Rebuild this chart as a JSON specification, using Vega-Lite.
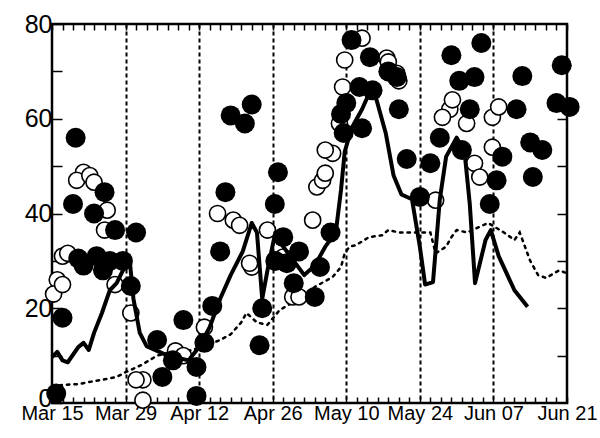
{
  "$schema": "https://vega.github.io/schema/vega-lite/v6.json",
  "width": 515,
  "height": 379,
  "autosize": "none",
  "padding": {"left": 52, "top": 24, "right": 33, "bottom": 35},
  "background": "white",
  "config": {
    "view": {"stroke": "black", "strokeWidth": 2.5, "fill": "white"},
    "axis": {"labelFont": "Liberation Sans", "labelColor": "black", "tickColor": "black", "domain": false, "labelFlush": false, "labelOverlap": false, "labelBound": false}
  },
  "datasets": {
    "filled": [
      {"day": 0.8, "value": 2}, {"day": 2, "value": 18}, {"day": 4.5, "value": 56}, {"day": 4, "value": 42},
      {"day": 8, "value": 40}, {"day": 10, "value": 44.5}, {"day": 5, "value": 30.5}, {"day": 8.5, "value": 31},
      {"day": 11, "value": 30}, {"day": 12, "value": 36.5}, {"day": 16, "value": 36}, {"day": 15, "value": 24.7},
      {"day": 13.5, "value": 30}, {"day": 9.7, "value": 28}, {"day": 6, "value": 29},
      {"day": 20, "value": 13.3}, {"day": 25, "value": 17.5}, {"day": 29, "value": 12.7}, {"day": 21, "value": 5.5},
      {"day": 27.5, "value": 7.6}, {"day": 27.5, "value": 1.5}, {"day": 23, "value": 9}, {"day": 30.5, "value": 20.5},
      {"day": 32, "value": 32}, {"day": 33, "value": 44.5}, {"day": 34, "value": 60.7}, {"day": 38, "value": 63},
      {"day": 36.7, "value": 59}, {"day": 39.5, "value": 12.2}, {"day": 40, "value": 20}, {"day": 43, "value": 48.7},
      {"day": 42.4, "value": 42}, {"day": 44, "value": 35}, {"day": 47, "value": 32}, {"day": 53, "value": 36},
      {"day": 51, "value": 28.7}, {"day": 44.7, "value": 29.5}, {"day": 50, "value": 22.4}, {"day": 46, "value": 25.3},
      {"day": 42.5, "value": 30}, {"day": 57, "value": 76.6}, {"day": 60.5, "value": 73}, {"day": 64, "value": 70},
      {"day": 65.6, "value": 68.8}, {"day": 58.5, "value": 66.7}, {"day": 56, "value": 63.3}, {"day": 55, "value": 61},
      {"day": 59, "value": 58}, {"day": 66, "value": 62}, {"day": 55.5, "value": 57}, {"day": 61, "value": 66},
      {"day": 67.5, "value": 51.5}, {"day": 72, "value": 50.6}, {"day": 76, "value": 73.4}, {"day": 81.7, "value": 76},
      {"day": 77.5, "value": 68}, {"day": 80.4, "value": 68.8}, {"day": 89.5, "value": 69}, {"day": 97, "value": 71.3},
      {"day": 96, "value": 63.3}, {"day": 98.5, "value": 62.5}, {"day": 79.5, "value": 62}, {"day": 88.4, "value": 62},
      {"day": 73.8, "value": 56}, {"day": 78, "value": 53.4}, {"day": 91, "value": 55}, {"day": 93.3, "value": 53.4},
      {"day": 91.5, "value": 47.7}, {"day": 85.7, "value": 52}, {"day": 84.6, "value": 47}, {"day": 83.3, "value": 42},
      {"day": 70, "value": 43.5}
    ],
    "open": [
      {"day": 1, "value": 26}, {"day": 0.3, "value": 23}, {"day": 2, "value": 25}, {"day": 2, "value": 31},
      {"day": 12, "value": 25}, {"day": 15, "value": 19}, {"day": 10, "value": 36.5}, {"day": 17.3, "value": 4.9},
      {"day": 16, "value": 4.9}, {"day": 17.3, "value": 0.6}, {"day": 31.5, "value": 40}, {"day": 29, "value": 16},
      {"day": 6, "value": 48.7}, {"day": 4.7, "value": 47}, {"day": 7.2, "value": 48}, {"day": 8, "value": 46.6},
      {"day": 10.5, "value": 40.7}, {"day": 3, "value": 31.6}, {"day": 34.5, "value": 38.6}, {"day": 35.7, "value": 37.5},
      {"day": 41, "value": 36.5}, {"day": 38, "value": 28.7}, {"day": 44, "value": 30.8}, {"day": 45.8, "value": 22.4},
      {"day": 47, "value": 22.4}, {"day": 49.6, "value": 38.6}, {"day": 50.4, "value": 45.6}, {"day": 51.5, "value": 47},
      {"day": 52, "value": 48.5}, {"day": 53.4, "value": 52.7}, {"day": 55.7, "value": 72.4}, {"day": 59, "value": 77},
      {"day": 55.3, "value": 66.7}, {"day": 54.7, "value": 59}, {"day": 65.6, "value": 69.6}, {"day": 63.7, "value": 72.8},
      {"day": 75.7, "value": 62}, {"day": 76.2, "value": 64}, {"day": 78.9, "value": 59}, {"day": 74.3, "value": 60.3},
      {"day": 83.8, "value": 54}, {"day": 83.8, "value": 60.3}, {"day": 85, "value": 62.5}, {"day": 80.4, "value": 50.6},
      {"day": 81.4, "value": 47.7}, {"day": 73, "value": 42.8}, {"day": 64, "value": 72}, {"day": 66, "value": 68},
      {"day": 23.5, "value": 11}, {"day": 25, "value": 10}, {"day": 37.6, "value": 29.5}, {"day": 52, "value": 53.4}
    ],
    "solid": [
      {"day": 0, "value": 9.7}, {"day": 1, "value": 10.8}, {"day": 2, "value": 9}, {"day": 3, "value": 8.6},
      {"day": 5, "value": 11.8}, {"day": 6, "value": 12.7}, {"day": 7, "value": 11.2}, {"day": 8, "value": 14.8},
      {"day": 9.5, "value": 19}, {"day": 11, "value": 23.8}, {"day": 12.3, "value": 25.3}, {"day": 13.5, "value": 28},
      {"day": 14.8, "value": 30}, {"day": 15.5, "value": 22}, {"day": 16.7, "value": 14.8}, {"day": 18, "value": 12},
      {"day": 20, "value": 11}, {"day": 22, "value": 10}, {"day": 24, "value": 9.5}, {"day": 26, "value": 9},
      {"day": 28, "value": 11.8}, {"day": 30, "value": 16}, {"day": 32, "value": 22}, {"day": 34, "value": 27},
      {"day": 36.3, "value": 32}, {"day": 38, "value": 38}, {"day": 39, "value": 36}, {"day": 40, "value": 22},
      {"day": 41, "value": 28}, {"day": 42.5, "value": 36}, {"day": 44, "value": 33}, {"day": 46, "value": 30},
      {"day": 48, "value": 27}, {"day": 50, "value": 29}, {"day": 52, "value": 33}, {"day": 54, "value": 36},
      {"day": 55, "value": 45}, {"day": 55.7, "value": 53}, {"day": 57, "value": 58}, {"day": 59, "value": 62},
      {"day": 61, "value": 67}, {"day": 62, "value": 63}, {"day": 63.5, "value": 57}, {"day": 65, "value": 48},
      {"day": 66.5, "value": 44}, {"day": 68.5, "value": 43}, {"day": 70, "value": 33}, {"day": 71, "value": 25},
      {"day": 72.5, "value": 25.5}, {"day": 73.8, "value": 43}, {"day": 75, "value": 52}, {"day": 77, "value": 56},
      {"day": 78.5, "value": 53}, {"day": 79.5, "value": 42}, {"day": 80.5, "value": 25.3}, {"day": 82.5, "value": 34.4},
      {"day": 83.5, "value": 36.5}, {"day": 85, "value": 31}, {"day": 88, "value": 23.8}, {"day": 90.5, "value": 20.3}
    ],
    "dotted": [
      {"day": 0, "value": 3.5}, {"day": 2, "value": 3.8}, {"day": 5, "value": 4}, {"day": 7, "value": 4.4},
      {"day": 10, "value": 5}, {"day": 12.3, "value": 5.5}, {"day": 14, "value": 6.5}, {"day": 17, "value": 8},
      {"day": 20, "value": 10}, {"day": 23, "value": 10.8}, {"day": 26, "value": 11}, {"day": 29, "value": 12},
      {"day": 32, "value": 13.3}, {"day": 34, "value": 14.5}, {"day": 36, "value": 17}, {"day": 37, "value": 19},
      {"day": 39, "value": 17}, {"day": 41, "value": 16.5}, {"day": 43.3, "value": 19.6}, {"day": 47, "value": 22},
      {"day": 50, "value": 24.5}, {"day": 53.4, "value": 26.6}, {"day": 55, "value": 28.7}, {"day": 55.7, "value": 31.6},
      {"day": 56.6, "value": 33}, {"day": 57.8, "value": 33.3}, {"day": 60.3, "value": 35}, {"day": 62.8, "value": 35.4},
      {"day": 64, "value": 36.5}, {"day": 66, "value": 36}, {"day": 69, "value": 36}, {"day": 72, "value": 36},
      {"day": 73, "value": 31.6}, {"day": 75, "value": 33}, {"day": 76, "value": 35}, {"day": 77, "value": 36.5},
      {"day": 79, "value": 36}, {"day": 83, "value": 38}, {"day": 86, "value": 36}, {"day": 88, "value": 34.4},
      {"day": 89, "value": 36}, {"day": 91, "value": 30}, {"day": 92.5, "value": 27}, {"day": 94, "value": 26.4},
      {"day": 96.5, "value": 28}, {"day": 98, "value": 27.4}
    ]
  },
  "layer": [
    {
      "data": {"name": "dotted"},
      "mark": {"type": "line", "color": "black", "strokeWidth": 2.5, "strokeDash": [2.5, 5], "strokeCap": "round"},
      "encoding": {
        "x": {"field": "day", "type": "quantitative", "scale": {"domain": [0, 98], "nice": false, "zero": false},
          "axis": {"orient": "bottom", "title": null,
            "values": [0,2,4,6,8,10,12,14,16,18,20,22,24,26,28,30,32,34,36,38,40,42,44,46,48,50,52,54,56,58,60,62,64,66,68,70,72,74,76,78,80,82,84,86,88,90,92,94,96,98],
            "labelExpr": "datum.value % 14 == 0 ? ['Mar 15','Mar 29','Apr 12','Apr 26','May 10','May 24','Jun 07','Jun 21'][datum.value / 14] : ''",
            "labelFontSize": 20, "labelPadding": 6, "tickSize": -6, "tickWidth": 1.5,
            "grid": true, "gridColor": "black", "gridWidth": 2, "gridDash": [4, 3],
            "gridOpacity": {"condition": {"test": "datum.value % 14 == 0 && datum.value > 0 && datum.value < 98", "value": 1}, "value": 0}}},
        "y": {"field": "value", "type": "quantitative", "scale": {"domain": [0, 80], "nice": false},
          "axis": {"orient": "left", "title": null, "values": [0,10,20,30,40,50,60,70,80],
            "labelExpr": "datum.value % 20 == 0 ? datum.label : ''",
            "labelOffset": {"condition": {"test": "datum.value == 0", "value": -5}, "value": 0},
            "labelFontSize": 25, "labelPadding": 10, "tickSize": -10, "tickWidth": 1.5, "grid": false}}
      }
    },
    {
      "data": {"name": "open"},
      "mark": {"type": "point", "shape": "circle", "size": 260, "filled": false, "fill": "white", "fillOpacity": 1, "stroke": "black", "strokeWidth": 1.6, "opacity": 1},
      "encoding": {
        "x": {"field": "day", "type": "quantitative",
          "axis": {"orient": "top", "title": null, "labels": false,
            "values": [0,2,4,6,8,10,12,14,16,18,20,22,24,26,28,30,32,34,36,38,40,42,44,46,48,50,52,54,56,58,60,62,64,66,68,70,72,74,76,78,80,82,84,86,88,90,92,94,96,98],
            "tickSize": -6, "tickWidth": 1.5, "grid": false}},
        "y": {"field": "value", "type": "quantitative",
          "axis": {"orient": "right", "title": null, "labels": false, "values": [10,20,30,40,50,60,70],
            "tickSize": -10, "tickWidth": 1.5, "grid": false}}
      }
    },
    {
      "data": {"name": "filled"},
      "mark": {"type": "point", "shape": "circle", "size": 400, "filled": true, "color": "black", "opacity": 1},
      "encoding": {
        "x": {"field": "day", "type": "quantitative", "axis": null},
        "y": {"field": "value", "type": "quantitative", "axis": null}
      }
    },
    {
      "data": {"name": "solid"},
      "mark": {"type": "line", "color": "black", "strokeWidth": 4, "strokeJoin": "round"},
      "encoding": {
        "x": {"field": "day", "type": "quantitative", "axis": null},
        "y": {"field": "value", "type": "quantitative", "axis": null}
      }
    }
  ]
}
